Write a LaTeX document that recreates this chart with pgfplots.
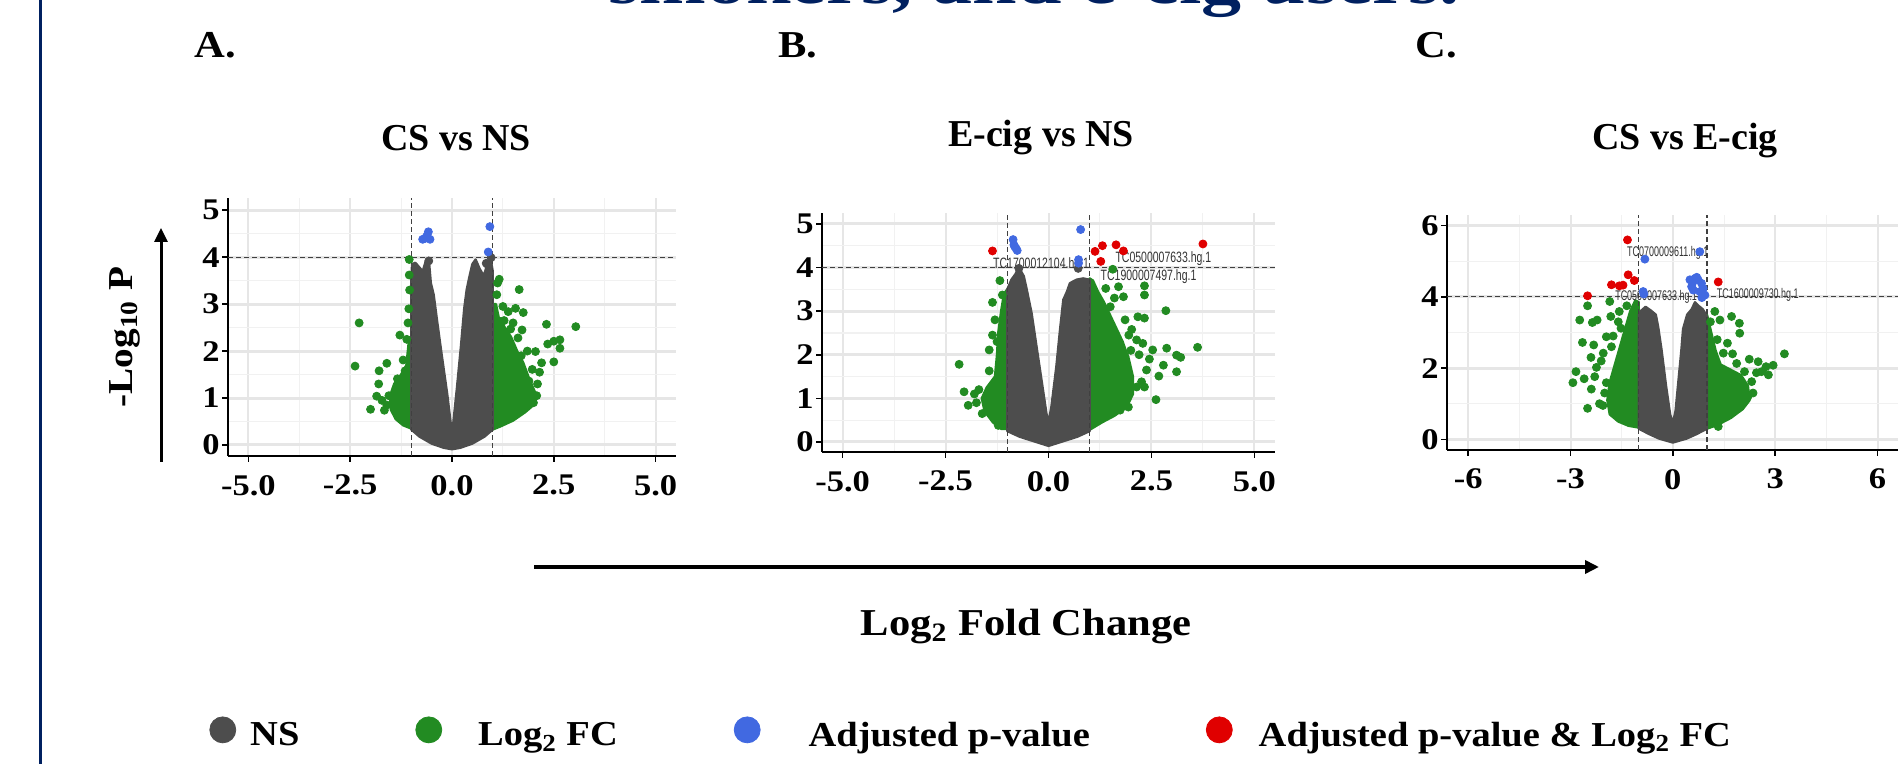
\documentclass[border=0pt]{standalone}
\usepackage{fontspec}
\setmainfont{Liberation Serif}
\newfontfamily\titlefont{Liberation Serif}[FakeStretch=1.25]
\newfontfamily\tickfont{Liberation Serif}[FakeStretch=1.15]
\newfontfamily\legfont{Liberation Serif}[FakeStretch=1.1]
\newfontfamily\labfont{Liberation Serif}[FakeStretch=1.12]
\newfontfamily\letfont{Liberation Serif}[FakeStretch=1.12]
\newfontfamily\genefont{Liberation Sans}[FakeStretch=0.7]
\newfontfamily\genefontc{Liberation Sans}[FakeStretch=0.64]
\usepackage{pgfplots}
\pgfplotsset{compat=1.18}
\usetikzlibrary{arrows.meta}
\definecolor{nsgray}{HTML}{4D4D4D}
\definecolor{fcgreen}{HTML}{228B22}
\definecolor{pblue}{HTML}{4169E1}
\definecolor{bothred}{HTML}{E00000}
\definecolor{navy}{RGB}{0,32,96}
\definecolor{majgrid}{HTML}{E6E6E6}
\definecolor{mingrid}{HTML}{F1F1F1}
\tikzset{
  gene/.style={font=\genefont\fontsize{7.5}{8}\selectfont, text=black!80, inner sep=0pt},
  genec/.style={font=\genefontc\fontsize{7}{8}\selectfont, text=black!80, inner sep=0pt},
}
\pgfplotsset{
  volc/.style={
    scale only axis, anchor=south west,
    axis x line*=bottom, axis y line*=left,
    axis line style={line width=1pt, black},
    major tick style={black, line width=0.8pt},
    tick align=outside,
    major tick length=3pt, minor tick length=0pt,
    xmajorgrids, ymajorgrids, xminorgrids, yminorgrids,
    minor tick num=1,
    major x grid style={majgrid, line width=1pt},
    major y grid style={majgrid, line width=1.5pt},
    minor x grid style={mingrid, line width=0.5pt},
    minor y grid style={mingrid, line width=0.6pt},
    tick label style={font=\tickfont\bfseries\fontsize{15}{15}\selectfont},
    xticklabel style={yshift=-3pt},
    yticklabel style={inner sep=1pt},
  },
  nsarea/.style={draw=nsgray, fill=nsgray, line width=1.2pt, line join=round, mark=none, forget plot},
  fcarea/.style={draw=fcgreen, fill=fcgreen, line width=1.2pt, line join=round, mark=none, forget plot},
  pts/.style={only marks, mark=*, mark size=2pt, color=#1, forget plot},
  cut/.style={black!75, line width=0.6pt, dash pattern=on 2.5pt off 1.5pt, mark=none, forget plot},
}
\begin{document}
\begin{tikzpicture}
\useasboundingbox (0,0) rectangle (951pt,382pt);
\clip (0,0) rectangle (951pt,382pt);

% ---------------- Panel A ----------------
\begin{axis}[volc, at={(114pt,154pt)}, width=224pt, height=129pt,
  xmin=-5.5, xmax=5.5, ymin=-0.234, ymax=5.26,
  xtick={-5,-2.5,0,2.5,5}, xticklabels={-5.0,-2.5,0.0,2.5,5.0},
  ytick={0,1,2,3,4,5}, yticklabels={0,1,2,3,4,5}]
\addplot[fcarea] coordinates {(-1.0,0.35) (-1.0,2.2) (-1.06,2.2) (-1.12,1.7) (-1.25,1.5) (-1.42,1.3) (-1.52,1.05) (-1.5,0.75) (-1.38,0.55) (-1.2,0.42)} -- cycle;
\addplot[fcarea] coordinates {(1.0,0.33) (1.0,3.0) (1.08,3.0) (1.15,2.7) (1.3,2.5) (1.45,2.3) (1.6,2.0) (1.75,1.75) (1.9,1.4) (2.05,1.1) (2.0,0.85) (1.8,0.7) (1.5,0.52) (1.2,0.4)} -- cycle;
\addplot[pts=fcgreen] coordinates {(-2.28,2.60) (-2.38,1.68) (-1.60,1.74) (-1.79,1.58) (-1.80,1.30) (-1.85,1.04) (-1.72,0.95) (-2.00,0.76) (-1.66,0.74) (-1.28,2.34) (-1.11,2.25) (-1.05,3.95) (-1.05,3.62) (-1.2,1.81) (-1.15,1.58) (-1.34,1.41) (-1.06,2.9) (-1.08,2.6) (-1.04,3.3) (-1.55,1.05) (-1.6,0.85)
(1.16,3.53) (1.12,3.45) (1.65,3.31) (1.56,2.91) (1.75,2.82) (1.38,2.84) (1.18,2.63) (2.32,2.57) (3.04,2.52) (2.50,2.21) (2.65,2.24) (2.35,2.15) (2.65,2.06) (2.20,1.75) (2.05,1.99) (2.50,1.77) (1.97,1.61) (1.89,1.36) (2.08,1.05) (1.62,2.28) (1.72,2.45) (1.28,2.65) (1.44,2.47) (1.1,3.2) (1.25,2.95) (1.5,2.6) (1.85,2.0) (2.1,1.3) (1.7,1.9) (2.15,1.55) (2.0,0.9)};
\addplot[nsarea] coordinates {(-1.0,0.33) (-1.0,3.45) (-0.98,3.85) (-0.9,3.88) (-0.8,3.78) (-0.72,3.7) (-0.64,3.92) (-0.56,3.85) (-0.52,3.45) (-0.45,3.2) (-0.36,2.6) (-0.25,1.9) (-0.12,1.1) (-0.03,0.45) (0.03,0.45) (0.12,1.2) (0.22,2.1) (0.3,2.9) (0.36,3.3) (0.42,3.55) (0.5,3.85) (0.58,3.95) (0.68,3.75) (0.78,3.6) (0.88,3.88) (0.95,3.95) (1.0,3.7) (1.0,0.33) (0.8,0.18) (0.5,0.03) (0.2,-0.06) (0,-0.09) (-0.2,-0.06) (-0.5,0.03) (-0.8,0.18)} -- cycle;
\addplot[pts=nsgray] coordinates {(-0.57,3.92) (0.96,3.99) (0.84,3.87) (0.9,3.8)};
\addplot[pts=pblue] coordinates {(-0.72,4.38) (-0.62,4.45) (-0.58,4.54) (-0.54,4.38) (-0.6,4.42) (-0.66,4.40) (0.93,4.65) (0.89,4.11)};
\addplot[cut] coordinates {(-1,-0.234) (-1,5.26)};
\addplot[cut] coordinates {(1,-0.234) (1,5.26)};
\addplot[cut] coordinates {(-5.5,4) (5.5,4)};
\end{axis}

% ---------------- Panel B ----------------
\begin{axis}[volc, at={(411pt,156pt)}, width=226.5pt, height=119.5pt,
  xmin=-5.5, xmax=5.5, ymin=-0.23, ymax=5.25,
  xtick={-5,-2.5,0,2.5,5}, xticklabels={-5.0,-2.5,0.0,2.5,5.0},
  ytick={0,1,2,3,4,5}, yticklabels={0,1,2,3,4,5}]
\addplot[fcarea] coordinates {(-1.0,0.3) (-1.0,3.5) (-1.08,3.4) (-1.15,3.0) (-1.22,2.5) (-1.25,2.0) (-1.3,1.5) (-1.5,1.25) (-1.62,1.0) (-1.55,0.7) (-1.35,0.45) (-1.15,0.3)} -- cycle;
\addplot[fcarea] coordinates {(1.0,0.28) (1.0,3.75) (1.08,3.7) (1.2,3.45) (1.35,3.2) (1.5,2.9) (1.65,2.6) (1.8,2.3) (1.95,1.9) (2.05,1.5) (2.05,1.1) (1.9,0.8) (1.6,0.6) (1.3,0.45)} -- cycle;
\addplot[pts=fcgreen] coordinates {(-2.17,1.78) (-2.05,1.15) (-1.95,0.84) (-1.69,1.20) (-1.61,0.65) (-1.44,1.63) (-1.44,2.11) (-1.36,2.45) (-1.36,3.20) (-1.18,3.70) (-1.12,3.37) (-1.35,0.96) (-1.22,0.38) (-1.8,1.1) (-1.75,0.9) (-1.3,2.8) (-1.25,2.3)
(1.39,3.52) (1.70,3.56) (1.82,3.33) (1.56,3.96) (2.33,3.58) (2.33,3.37) (2.85,3.01) (2.33,2.84) (2.17,2.87) (1.86,2.8) (2.02,2.58) (1.95,2.45) (2.14,2.34) (2.29,2.26) (2.53,2.11) (2.87,2.15) (3.62,2.17) (3.11,1.99) (3.21,1.94) (2.38,1.65) (2.68,1.51) (2.79,1.76) (3.11,1.61) (2.26,1.38) (2.33,1.26) (2.14,1.26) (2.61,0.97) (1.94,0.80) (1.74,0.73) (1.86,1.95) (1.6,3.3) (1.5,3.1) (2.2,2.0) (2.0,2.1) (2.45,1.9)};
\addplot[nsarea] coordinates {(-1.0,0.25) (-1.0,3.5) (-0.9,3.72) (-0.8,3.85) (-0.74,3.97) (-0.66,3.9) (-0.6,3.8) (-0.53,3.5) (-0.41,2.95) (-0.29,2.18) (-0.17,1.42) (-0.05,0.65) (0,0.45) (0.07,0.8) (0.19,1.72) (0.28,2.57) (0.36,3.26) (0.45,3.45) (0.52,3.64) (0.68,3.72) (0.84,3.75) (1.0,3.72) (1.0,0.25) (0.7,0.12) (0.4,0.03) (0,-0.09) (-0.4,0.03) (-0.7,0.12)} -- cycle;
\addplot[pts=nsgray] coordinates {(0.72,3.98) (-0.72,3.98)};
\addplot[pts=pblue] coordinates {(-0.86,4.64) (-0.84,4.52) (-0.79,4.44) (-0.76,4.39) (-0.82,4.48) (0.78,4.87) (0.73,4.18) (0.73,4.10)};
\addplot[pts=bothred] coordinates {(-1.36,4.38) (1.13,4.37) (1.31,4.50) (1.64,4.52) (1.82,4.38) (1.27,4.14) (3.75,4.54)};
\addplot[cut] coordinates {(-1,-0.23) (-1,5.25)};
\addplot[cut] coordinates {(1,-0.23) (1,5.25)};
\addplot[cut] coordinates {(-5.5,4) (5.5,4)};
\node[gene] at (axis cs:-0.18,4.06) {TC1700012104.hg.1};
\node[gene] at (axis cs:2.79,4.20) {TC0500007633.hg.1};
\node[gene] at (axis cs:2.43,3.79) {TC1900007497.hg.1};
\end{axis}

% ---------------- Panel C ----------------
\begin{axis}[volc, at={(723.5pt,157pt)}, width=225.5pt, height=117.5pt,
  xmin=-6.62, xmax=6.6, ymin=-0.3, ymax=6.3,
  xtick={-6,-3,0,3,6}, xticklabels={-6,-3,0,3,6},
  ytick={0,2,4,6}, yticklabels={0,2,4,6}]
\addplot[fcarea] coordinates {(-1.0,0.33) (-1.0,3.85) (-1.1,3.9) (-1.25,3.6) (-1.4,3.1) (-1.55,2.6) (-1.7,2.1) (-1.85,1.6) (-1.92,1.1) (-1.85,0.7) (-1.6,0.5) (-1.3,0.38)} -- cycle;
\addplot[fcarea] coordinates {(1.0,0.3) (1.0,3.5) (1.1,3.1) (1.25,2.5) (1.4,2.1) (1.7,1.95) (2.0,1.8) (2.2,1.5) (2.25,1.1) (2.05,0.85) (1.7,0.6) (1.3,0.4)} -- cycle;
\addplot[pts=fcgreen] coordinates {(-2.93,1.59) (-2.84,1.90) (-2.73,3.35) (-2.65,2.72) (-2.50,3.75) (-2.50,0.87) (-2.39,1.41) (-2.32,2.65) (-2.36,3.28) (-2.22,3.35) (-2.24,2.02) (-2.29,1.76) (-1.95,1.59) (-1.85,3.87) (-1.82,3.45) (-1.95,2.88) (-2.04,2.42) (-1.52,3.12) (-1.57,3.59) (-2.1,2.2) (-2.0,1.3) (-2.15,1.0) (-1.75,2.9) (-1.6,3.3) (-1.35,3.75) (-2.4,2.3) (-2.6,1.7) (-1.8,2.6) (-2.05,0.95)
(1.23,3.59) (1.38,3.35) (1.72,3.45) (1.95,3.26) (1.96,2.98) (1.48,2.42) (1.87,2.13) (2.24,2.25) (2.50,2.18) (2.73,2.04) (2.94,2.08) (3.27,2.40) (2.80,1.81) (2.31,1.62) (2.45,1.87) (1.38,1.85) (1.33,0.36) (1.1,3.3) (1.6,2.7) (1.3,2.8) (2.1,1.9) (2.6,1.9) (2.35,1.3) (2.2,1.2) (1.75,2.4)};
\addplot[nsarea] coordinates {(-1.0,0.3) (-1.0,3.5) (-0.92,3.62) (-0.8,3.72) (-0.65,3.62) (-0.5,3.5) (-0.43,3.15) (-0.33,2.5) (-0.2,1.5) (-0.08,0.7) (0,0.45) (0.08,0.8) (0.15,1.5) (0.25,2.5) (0.3,3.1) (0.42,3.5) (0.55,3.65) (0.65,3.85) (0.75,3.75) (0.88,3.65) (1.0,3.45) (1.0,0.3) (0.7,0.15) (0.4,0.02) (0,-0.09) (-0.4,0.02) (-0.7,0.15)} -- cycle;
\addplot[pts=pblue] coordinates {(-0.82,5.06) (0.79,5.27) (-0.87,4.15) (-0.85,4.08) (0.55,4.29) (0.65,4.52) (0.74,4.48) (0.84,4.38) (0.89,4.24) (0.79,4.15) (0.94,4.05) (0.5,4.48) (0.6,4.19) (0.58,4.4) (0.7,4.55) (0.85,3.98)};
\addplot[pts=bothred] coordinates {(-1.33,5.60) (-1.31,4.62) (-1.13,4.46) (-1.80,4.34) (-1.57,4.31) (-1.46,4.33) (-2.50,4.03) (1.33,4.42)};
\addplot[cut] coordinates {(-1,-0.3) (-1,6.3)};
\addplot[cut] coordinates {(1,-0.3) (1,6.3)};
\addplot[cut] coordinates {(-6.62,4) (6.6,4)};
\node[genec] at (axis cs:-0.15,5.24) {TC0700009611.hg.1};
\node[genec] at (axis cs:-0.49,3.99) {TC0500007633.hg.1};
\node[genec] at (axis cs:2.49,4.05) {TC1600009730.hg.1};
\end{axis}

% ---------------- Legend ----------------
\begin{axis}[hide axis, scale only axis, width=951pt, height=382pt,
  at={(0pt,0pt)}, anchor=south west,
  xmin=0, xmax=1902, ymin=0, ymax=764,
  legend columns=4,
  legend style={at={(axis cs:209,31)}, anchor=west, draw=none, fill=none, inner sep=0pt,
    nodes={inner sep=0pt},
    font=\legfont\bfseries\fontsize{17.5}{17.5}\selectfont,
    /tikz/every odd column/.append style={column sep=7pt},
    /tikz/every even column/.append style={column sep=58pt}},
  legend cell align=left,
  legend image code/.code={\fill[#1] (6.5pt,3pt) circle[radius=6.5pt];}]
\addlegendimage{nsgray}\addlegendentry{NS}
\addlegendimage{fcgreen}\addlegendentry{\hspace{11pt}Log\textsubscript{2} FC\hspace{2.5pt}}
\addlegendimage{pblue}\addlegendentry{\hspace{17pt}Adjusted p-value\hspace{14pt}}
\addlegendimage{bothred}\addlegendentry{\hspace{6pt}Adjusted p-value \& Log\textsubscript{2} FC}
\end{axis}

% ---------------- Annotations (px coordinates from top-left) ----------------
\begin{scope}[x=0.5pt, y=-0.5pt, yshift=382pt]
\fill[navy] (38.5,0) rectangle (41.5,764);
\node[anchor=base, text=navy, font=\titlefont\bfseries\fontsize{32}{32}\selectfont] at (1034,4) {smokers, and e-cig users.};
\node[font=\letfont\bfseries\fontsize{19}{19}\selectfont] at (215,45) {A.};
\node[font=\letfont\bfseries\fontsize{19}{19}\selectfont] at (798,45) {B.};
\node[font=\letfont\bfseries\fontsize{19}{19}\selectfont] at (1436,45) {C.};
\node[font=\bfseries\fontsize{19}{19}\selectfont] at (456,138) {CS vs NS};
\node[font=\bfseries\fontsize{19}{19}\selectfont] at (1041,138) {E-cig vs NS};
\node[font=\bfseries\fontsize{19}{19}\selectfont] at (1685,141) {CS vs E-cig};
\node[rotate=90, font=\labfont\bfseries\fontsize{17.5}{17.5}\selectfont] at (125,337) {-Log\textsubscript{10} P};
\draw[line width=1.5pt, -{Triangle[length=7pt,width=6.5pt]}] (161,462) -- (161,228);
\draw[line width=1.75pt, -{Triangle[length=7pt,width=6.5pt]}] (534,567) -- (1599,567);
\node[font=\labfont\bfseries\fontsize{19}{19}\selectfont] at (1026,627) {Log\textsubscript{2} Fold Change};
\end{scope}
\end{tikzpicture}
\end{document}
